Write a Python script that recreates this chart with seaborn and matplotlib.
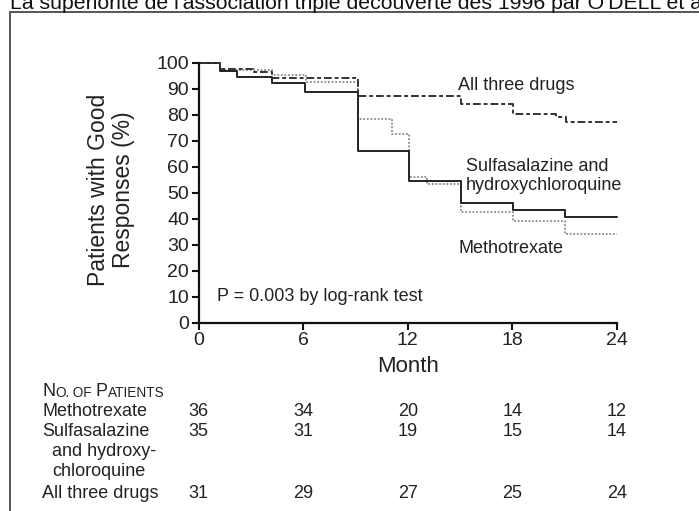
import matplotlib
matplotlib.use("Agg")
import matplotlib.pyplot as plt
import matplotlib.transforms as mtransforms
from matplotlib.lines import Line2D
import seaborn as sns
import pandas as pd

sns.set_theme(style="ticks")
plt.rcParams["font.family"] = ["Liberation Sans", "DejaVu Sans"]

# ---------------- data ----------------
months_mtx = [0, 1.2, 4.2, 6.15, 9.15, 11.1, 12.1, 13.1, 15.05, 18.05, 21.05, 24]
resp_mtx = [100, 97.2, 95.3, 92.6, 78.5, 72.4, 56.0, 53.4, 42.6, 39.2, 34.2, 34.2]

months_ssz = [0, 1.2, 2.2, 4.2, 6.1, 9.15, 12.1, 15.05, 18.05, 21.05, 24]
resp_ssz = [100, 96.8, 94.5, 92.0, 88.9, 66.0, 54.5, 46.0, 43.3, 40.6, 40.6]

months_all = [0, 1.2, 3.1, 4.2, 9.15, 15.05, 18.05, 20.5, 21.1, 24]
resp_all = [100, 97.5, 96.3, 94.2, 87.0, 84.0, 80.2, 79.2, 77.3, 77.3]

x_ticks = [0, 6, 12, 18, 24]
y_ticks = [0, 10, 20, 30, 40, 50, 60, 70, 80, 90, 100]

table_rows = ["Methotrexate", "Sulfasalazine", "All three drugs"]
n_mtx = [36, 34, 20, 14, 12]
n_ssz = [35, 31, 19, 15, 14]
n_all = [31, 29, 27, 25, 24]

title_text = "La supériorité de l'association triple découverte dès 1996 par O'DELL et al."

# ---------------- figure ----------------
W, H = 699, 511
fig = plt.figure(figsize=(W / 100, H / 100), dpi=100)
fig.patch.set_facecolor("white")

x0, x1 = 198.7, 616.7
y0, y1 = 322.7, 62.7
ax = fig.add_axes([x0 / W, 1 - y0 / H, (x1 - x0) / W, (y0 - y1) / H])
ax.set_facecolor("white")

df = pd.concat([
    pd.DataFrame({"month": months_mtx, "resp": resp_mtx, "group": "Methotrexate"}),
    pd.DataFrame({"month": months_ssz, "resp": resp_ssz, "group": "Sulfasalazine"}),
    pd.DataFrame({"month": months_all, "resp": resp_all, "group": "All three"}),
])

styles = {
    "Methotrexate": dict(color="#8a8a8a", linestyle=(0, (1, 1)), linewidth=1.3),
    "Sulfasalazine": dict(color="#222222", linestyle="-", linewidth=1.4),
    "All three": dict(color="#333333", linestyle=(0, (4, 1.5, 2, 1.5)), linewidth=1.4),
}
for g, st in styles.items():
    sub = df[df["group"] == g]
    sns.lineplot(data=sub, x="month", y="resp", ax=ax, drawstyle="steps-post",
                 estimator=None, sort=False, clip_on=False, **st)

ax.set_xlim(0, 24)
ax.set_ylim(0, 100)
ax.set_xticks(x_ticks)
ax.set_yticks(y_ticks)
ax.set_xlabel("")
ax.set_ylabel("")
for s in ["top", "right"]:
    ax.spines[s].set_visible(False)
for s in ["left", "bottom"]:
    ax.spines[s].set_color("#111111")
    ax.spines[s].set_linewidth(1.6)
ax.tick_params(direction="out", length=5, width=1.5, color="#111111",
               labelsize=14, labelcolor="#222222", pad=2)

# axis labels
fig.text(111 / W, 1 - 190 / H, "Patients with Good\nResponses (%)", rotation=90,
         ha="center", va="center", fontsize=16.5, color="#222222", linespacing=1.1)
fig.text(407.7 / W, 1 - 366 / H, "Month", ha="center", va="center",
         fontsize=16, color="#222222")

# annotations
ax.text(14.89, 91.4, "All three drugs", ha="left", va="center", fontsize=13, color="#222222")
ax.text(15.35, 56.6, "Sulfasalazine and\nhydroxychloroquine", ha="left", va="center",
        fontsize=13, color="#222222", linespacing=1.15)
ax.text(14.89, 28.5, "Methotrexate", ha="left", va="center", fontsize=13, color="#222222")
ax.text(1.05, 9.9, "P = 0.003 by log-rank test", ha="left", va="center",
        fontsize=13, color="#222222")

# number at risk table
trans = mtransforms.blended_transform_factory(ax.transData, fig.transFigure)


def fy(py):
    return 1 - py / H


# small-caps header "No. of Patients"
big, small = 13, 9.8
pieces = [("N", big), ("O.", small), (" OF ", small), ("P", big), ("ATIENTS", small)]
prev = fig.text(42 / W, fy(396), pieces[0][0], ha="left", va="baseline",
                fontsize=pieces[0][1], color="#222222")
for txt, sz in pieces[1:]:
    prev = ax.annotate(txt, xy=(1, 0), xycoords=prev, ha="left", va="bottom",
                       fontsize=sz, color="#222222", annotation_clip=False)

row_y = [411, 431, 493]
for lab, yy in zip(table_rows, row_y):
    fig.text(42 / W, fy(yy), lab, ha="left", va="center", fontsize=13, color="#222222")
fig.text(52 / W, fy(452), "and hydroxy-", ha="left", va="center", fontsize=13, color="#222222")
fig.text(52 / W, fy(472), "chloroquine", ha="left", va="center", fontsize=13, color="#222222")

for vals, yy in zip([n_mtx, n_ssz, n_all], row_y):
    for xm, v in zip(x_ticks, vals):
        ax.text(xm, fy(yy), str(v), transform=trans, ha="center", va="center",
                fontsize=13, color="#222222")

# page frame and cropped heading
fig.add_artist(Line2D([9.5 / W, 9.5 / W], [0, fy(12.5)], transform=fig.transFigure,
                      color="#555555", linewidth=1.4))
fig.add_artist(Line2D([9.5 / W, 1.0], [fy(12.5), fy(12.5)], transform=fig.transFigure,
                      color="#555555", linewidth=1.4))
fig.text(10 / W, fy(9), title_text, ha="left", va="baseline", fontsize=15.3,
         color="#111111")

fig.savefig("out.png", dpi=100, facecolor="white")
